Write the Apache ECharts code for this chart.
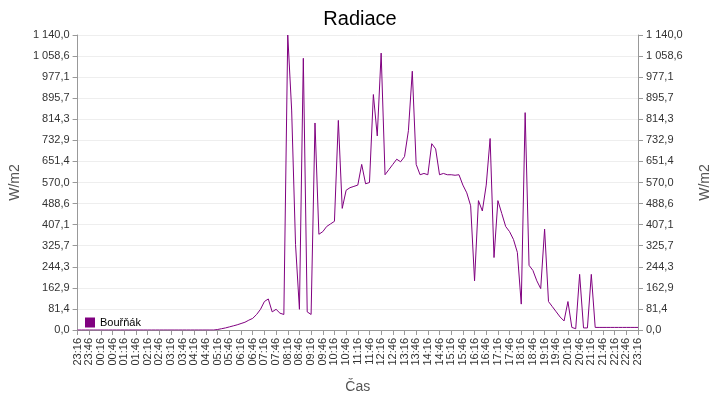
<!DOCTYPE html>
<html><head><meta charset="utf-8">
<script src="https://cdn.jsdelivr.net/npm/echarts@6/dist/echarts.min.js"></script>
<style>html,body{margin:0;padding:0;background:#fff}#c{width:720px;height:400px}</style>
</head><body><div id="c"></div>
<script>
const seriesName = 'Bouřňák';
const startMinutes = 23*60+16;
const stepMinutes = 10;
const values = [
0,0,0,0,0,0,0,0,0,0,
0,0,0,0,0,0,0,0,0,0,
0,0,0,0,0,0,0,0,0,0,
0,0,0,0,0,0,
2,5,8,12,16,20,25,30,38,45,
60,80,110,120,70,80,65,60,1140,850,
330,80,1050,70,60,800,370,380,400,410,420,
810,470,540,550,555,560,640,565,570,910,
750,1070,600,620,640,660,650,670,770,1000,640,
600,605,600,720,700,600,605,600,600,598,600,
560,530,480,190,500,460,560,740,280,500,
450,400,380,350,300,100,840,250,230,190,
160,390,110,90,70,50,35,110,10,5,
215,8,8,215,10,10,10,10,10,10,
10,10,10,10,10,10
];
const categories = values.map((v,i)=>{const m=(startMinutes+i*stepMinutes)%1440;return String(Math.floor(m/60)).padStart(2,'0')+':'+String(m%60).padStart(2,'0');});
const yMax = 1140;
const fmt = v => { const s = v.toFixed(1).replace('.', ','); const [a,b]=s.split(','); return a.replace(/\B(?=(\d{3})+(?!\d))/g,' ')+','+b; };
const yAxisBase = { type:'value', min:0, max:yMax, interval:yMax/14, name:'W/m2', nameLocation:'middle',
  nameTextStyle:{fontSize:14,color:'#555'}, axisLine:{show:true,lineStyle:{color:'#999'}}, axisTick:{show:true},
  axisLabel:{formatter:fmt,fontSize:11,color:'#333'}, splitLine:{lineStyle:{color:'#eee'}} };
const chart = echarts.init(document.getElementById('c'));
chart.setOption({
  animation:false,
  title:{text:'Radiace',left:'center',top:4,textStyle:{fontSize:20,fontWeight:'normal',color:'#000'}},
  legend:{left:80,top:312,itemWidth:10,itemHeight:10,icon:'rect',textStyle:{fontSize:11,color:'#000'},data:[seriesName]},
  grid:{left:75,right:77,top:35,bottom:70},
  xAxis:{type:'category',data:categories,boundaryGap:false,name:'Čas',nameLocation:'middle',nameGap:50,
    nameTextStyle:{fontSize:14,color:'#555'},axisLine:{lineStyle:{color:'#999'}},
    axisTick:{interval:2},axisLabel:{interval:2,rotate:90,fontSize:11,color:'#333'}},
  yAxis:[Object.assign({},yAxisBase,{position:'left',nameGap:55}),Object.assign({},yAxisBase,{position:'right',nameGap:60,splitLine:{show:false}})],
  series:[{name:seriesName,type:'line',data:values,showSymbol:false,lineStyle:{width:1,color:'#800080'},itemStyle:{color:'#800080'}}]
});
</script></body></html>
